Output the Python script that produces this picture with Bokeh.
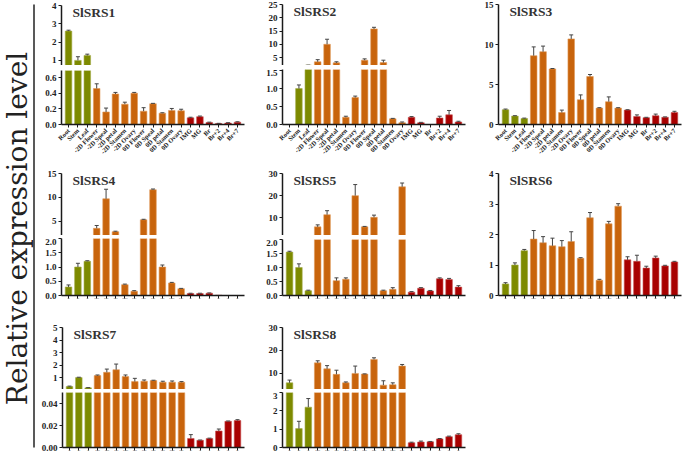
import math
from bokeh.plotting import figure
from bokeh.layouts import row, column
from bokeh.models import (FactorRange, Range1d, FixedTicker, Spacer,
                          ColumnDataSource, NumeralTickFormatter)
from bokeh.core.properties import value
from bokeh.embed import file_html
from bokeh.resources import INLINE

# ---------------- data ----------------
categories = ["Root", "Stem", "Leaf", "-2D Flower", "-2D Speal", "-2D petal",
              "-2D Stamen", "-2D Ovary", "0D Flower", "0D Speal", "0D petal",
              "0D Stamen", "0D Ovary", "IMG", "MG", "Br", "Br+2", "Br+4", "Br+7"]
tissue_group = ["vegetative"] * 3 + ["flower"] * 10 + ["fruit"] * 6

srs1_values = [2.6, 1.0, 1.27, 0.46, 0.16, 0.39, 0.26, 0.40, 0.17, 0.265, 0.145,
               0.18, 0.175, 0.085, 0.10, 0.025, 0.012, 0.018, 0.03]
srs1_errors = [0.05, 0.2, 0.07, 0.06, 0.05, 0.02, 0.025, 0.01, 0.045, 0.005, 0.005,
               0.025, 0.02, 0.008, 0.008, 0.005, 0.003, 0.005, 0.005]
srs1_upper = [0.72, 4]
srs1_lower = [0, 0.69]
srs1_upper_ticks = [1, 2, 3, 4]
srs1_lower_ticks = [0, 0.2, 0.4, 0.6]

srs2_values = [0, 1.0, 2.1, 3.4, 10.0, 3.0, 0.2, 0.75, 4.0, 15.8, 3.1, 0.16, 0.05,
               0.2, 0.05, 0, 0.18, 0.27, 0.07]
srs2_errors = [0, 0.1, 0.05, 0.8, 1.9, 0.4, 0.03, 0.04, 0.5, 0.6, 0.9, 0.01, 0.02,
               0.02, 0.01, 0, 0.05, 0.12, 0.02]
srs2_upper = [2, 25]
srs2_lower = [0, 1.53]
srs2_upper_ticks = [5, 10, 15, 20, 25]
srs2_lower_ticks = [0, 0.5, 1.0, 1.5]

srs3_values = [1.85, 1.05, 0.75, 8.6, 9.1, 6.95, 1.5, 10.7, 3.1, 6.0, 2.05, 2.85,
               2.05, 1.8, 1.0, 0.85, 1.1, 0.9, 1.5]
srs3_errors = [0.08, 0.05, 0.05, 1.1, 0.7, 0.05, 0.3, 0.5, 0.6, 0.25, 0.05, 0.6,
               0.05, 0.05, 0.2, 0.05, 0.2, 0.05, 0.15]
srs3_range = [0, 15]
srs3_ticks = [0, 5, 10, 15]

srs4_values = [0.3, 1.0, 1.2, 3.5, 9.7, 2.8, 0.38, 0.15, 5.3, 11.6, 1.0, 0.44, 0.24,
               0.07, 0.07, 0.08, 0.01, 0.0, 0.0]
srs4_errors = [0.07, 0.13, 0.02, 0.6, 2.0, 0.1, 0.02, 0.02, 0.1, 0.15, 0.07, 0.02,
               0.01, 0.01, 0.01, 0.01, 0.0, 0.0, 0.0]
srs4_upper = [2, 15]
srs4_lower = [0, 2.0]
srs4_upper_ticks = [5, 10, 15]
srs4_lower_ticks = [0, 0.5, 1.0, 1.5, 2.0]

srs5_values = [1.55, 1.0, 0.17, 5.9, 11.4, 0.53, 0.58, 20.0, 5.9, 10.2, 0.17, 0.22,
               24.0, 0.12, 0.26, 0.16, 0.6, 0.57, 0.3]
srs5_errors = [0.03, 0.13, 0.02, 0.9, 1.8, 0.1, 0.05, 5.0, 0.2, 1.0, 0.02, 0.06,
               1.7, 0.02, 0.02, 0.02, 0.03, 0.04, 0.05]
srs5_upper = [2, 30]
srs5_lower = [0, 2.0]
srs5_upper_ticks = [10, 20, 30]
srs5_lower_ticks = [0, 0.5, 1.0, 1.5, 2.0]

srs6_values = [0.38, 1.0, 1.47, 1.85, 1.73, 1.63, 1.6, 1.77, 1.22, 2.55, 0.5, 2.35,
               2.93, 1.17, 1.12, 0.9, 1.23, 0.97, 1.1]
srs6_errors = [0.04, 0.07, 0.04, 0.28, 0.2, 0.25, 0.2, 0.32, 0.02, 0.17, 0.03, 0.08,
               0.08, 0.1, 0.2, 0.06, 0.06, 0.02, 0.02]
srs6_range = [0, 4]
srs6_ticks = [0, 1, 2, 3, 4]

srs7_values = [0.29, 1.0, 0.18, 1.16, 1.42, 1.63, 1.08, 0.68, 0.71, 0.76, 0.63, 0.63,
               0.63, 0.0082, 0.0065, 0.0082, 0.015, 0.0238, 0.0245]
srs7_errors = [0.03, 0.03, 0.02, 0.05, 0.26, 0.45, 0.13, 0.26, 0.1, 0.03, 0.08, 0.1,
               0.05, 0.0035, 0.0003, 0.0003, 0.0018, 0.0003, 0.0008]
srs7_upper = [0.05, 5]
srs7_lower = [0, 0.05]
srs7_upper_ticks = [1, 2, 3, 4, 5]
srs7_lower_ticks = [0, 0.02, 0.04]

srs8_values = [5.9, 1.03, 2.2, 14.6, 12.0, 9.6, 5.9, 10.0, 9.7, 16.1, 4.9, 5.1, 13.2,
               0.26, 0.30, 0.31, 0.47, 0.59, 0.7]
srs8_errors = [1.2, 0.4, 0.47, 0.9, 1.4, 1.8, 0.4, 3.2, 0.1, 0.7, 1.9, 0.8, 0.7,
               0.03, 0.05, 0.02, 0.02, 0.03, 0.05]
srs8_upper = [3, 30]
srs8_lower = [0, 3]
srs8_upper_ticks = [10, 20, 30]
srs8_lower_ticks = [0, 1, 2, 3]

y_title = "Relative expression level"

# ---------------- style ----------------
FILL = {"vegetative": "#7d8a00", "flower": "#c8640c", "fruit": "#a80000"}
EDGE = {"vegetative": "#a4ad4a", "flower": "#e09a5a", "fruit": "#c85050"}
SERIF = "Liberation Serif"
AXIS_COLOR = "#1a1a1a"


def make_fig(vals, errs, yr, ticks, fmt, w, h, bl, br, bt, bb, xaxis, xlabels,
             title=None):
    p = figure(width=w, height=h,
               x_range=FactorRange(factors=categories, range_padding=0.25,
                                   range_padding_units="absolute"),
               y_range=Range1d(yr[0], yr[1]),
               output_backend="svg", toolbar_location=None,
               min_border_left=bl, min_border_right=br,
               min_border_top=bt, min_border_bottom=bb,
               x_axis_location="below" if xaxis else None)
    p.outline_line_color = None
    p.grid.visible = False
    p.background_fill_color = "white"
    p.border_fill_color = "white"

    src = ColumnDataSource(dict(
        cat=categories, val=vals,
        fill=[FILL[g] for g in tissue_group],
        edge=[EDGE[g] for g in tissue_group]))
    p.vbar(x="cat", top="val", bottom=0, width=0.7, source=src,
           fill_color="fill", line_color="edge", line_width=0.6)

    ec, ev, eh = [], [], []
    for c, v, e in zip(categories, vals, errs):
        if e > 0:
            ec.append(c); ev.append(v); eh.append(v + e)
    esrc = ColumnDataSource(dict(cat=ec, val=ev, hi=eh))
    p.segment(x0="cat", y0="val", x1="cat", y1="hi", source=esrc,
              line_color="#444444", line_width=1)
    p.scatter(x="cat", y="hi", marker="dash", size=4, source=esrc,
              line_color="#444444", line_width=1)

    ya = p.yaxis[0]
    ya.ticker = FixedTicker(ticks=ticks)
    ya.formatter = NumeralTickFormatter(format=fmt)
    ya.minor_tick_line_color = None
    ya.major_tick_in = 0
    ya.major_tick_out = 3
    ya.axis_line_width = 1.5
    ya.axis_line_color = AXIS_COLOR
    ya.major_tick_line_width = 1.2
    ya.major_tick_line_color = AXIS_COLOR
    ya.major_label_standoff = 2
    ya.major_label_text_font = SERIF
    ya.major_label_text_font_style = "bold"
    ya.major_label_text_font_size = "9px"
    ya.major_label_text_color = "#222222"

    if xaxis:
        xa = p.xaxis[0]
        xa.major_tick_in = 0
        xa.major_tick_out = 3
        xa.axis_line_width = 1.5
        xa.axis_line_color = AXIS_COLOR
        xa.major_tick_line_color = AXIS_COLOR
        xa.major_tick_line_width = 1
        xa.minor_tick_line_color = None
        if xlabels:
            xa.major_label_orientation = math.pi / 4
            xa.major_label_text_font = SERIF
            xa.major_label_text_font_style = "bold"
            xa.major_label_text_font_size = "6.5px"
            xa.major_label_text_color = "#222222"
            xa.major_label_standoff = 2
        else:
            xa.major_label_overrides = {c: "" for c in categories}
            xa.major_label_text_font_size = "1px"
            xa.major_label_standoff = 0

    if title:
        p.text(x=[categories[0]], y=[yr[1]], text=[title], x_offset=4, y_offset=-1,
               text_baseline="top", text_align="left",
               text_font=value(SERIF), text_font_style="bold",
               text_font_size="13.5px", text_color="#333333")
    return p


def break_strip(w, bl, gap):
    s = figure(width=w, height=gap, x_range=Range1d(0, w), y_range=Range1d(0, gap),
               x_axis_location=None, y_axis_location=None, min_border=0,
               output_backend="svg", toolbar_location=None)
    s.outline_line_color = None
    s.grid.visible = False
    ax = bl - 0.5
    s.segment(x0=[ax - 3, ax - 1], y0=[0, 0], x1=[ax + 1, ax + 3], y1=[gap, gap],
              line_color="#111111", line_width=1.2)
    return s


def broken(name, vals, errs, up, lo, up_t, lo_t, lo_fmt, w, bl, br,
           upper_geo, gap, lower_geo, xlabels):
    uh, ubt = upper_geo
    lh, lbb = lower_geo
    pu = make_fig(vals, errs, up, up_t, "0", w, uh, bl, br, ubt, 0,
                  False, False, title=name)
    pl = make_fig(vals, errs, lo, lo_t, lo_fmt, w, lh, bl, br, 0, lbb,
                  True, xlabels)
    return column(pu, break_strip(w, bl, gap), pl, spacing=0)


def single(name, vals, errs, yr, ticks, w, h, bl, br, bt, bb, xlabels):
    return make_fig(vals, errs, yr, ticks, "0", w, h, bl, br, bt, bb, True,
                    xlabels, title=name)


# column geometry (width, left border, right border)
C1 = (224, 23, 18)
C2 = (216, 20, 13)
C3 = (207, 20, 4)

p1 = broken("SlSRS1", srs1_values, srs1_errors, srs1_upper, srs1_lower,
            srs1_upper_ticks, srs1_lower_ticks, "0.0", *C1,
            (65, 5), 5, (90, 34), True)
p2 = broken("SlSRS2", srs2_values, srs2_errors, srs2_upper, srs2_lower,
            srs2_upper_ticks, srs2_lower_ticks, "0.0", *C2,
            (65, 4), 4, (91, 34), True)
p3 = single("SlSRS3", srs3_values, srs3_errors, srs3_range, srs3_ticks,
            C3[0], 160, C3[1], C3[2], 4, 34, True)

p4 = broken("SlSRS4", srs4_values, srs4_errors, srs4_upper, srs4_lower,
            srs4_upper_ticks, srs4_lower_ticks, "0.0", *C1,
            (75, 13), 3, (76, 19), False)
p5 = broken("SlSRS5", srs5_values, srs5_errors, srs5_upper, srs5_lower,
            srs5_upper_ticks, srs5_lower_ticks, "0.0", *C2,
            (75, 13), 4, (75, 19), False)
p6 = single("SlSRS6", srs6_values, srs6_errors, srs6_range, srs6_ticks,
            C3[0], 154, C3[1], C3[2], 13, 19, False)

p7 = broken("SlSRS7", srs7_values, srs7_errors, srs7_upper, srs7_lower,
            srs7_upper_ticks, srs7_lower_ticks, "0.00", *C1,
            (75, 13), 3, (62, 5), False)
p8 = broken("SlSRS8", srs8_values, srs8_errors, srs8_upper, srs8_lower,
            srs8_upper_ticks, srs8_lower_ticks, "0", *C2,
            (75, 13), 3, (62, 4), False)
p9 = Spacer(width=C3[0], height=140)

# big y-axis title
t = figure(width=38, height=454, x_range=Range1d(0, 38), y_range=Range1d(0, 454),
           x_axis_location=None, y_axis_location=None, min_border=0,
           output_backend="svg", toolbar_location=None)
t.outline_line_color = None
t.grid.visible = False
t.text(x=[16.5], y=[226], text=[y_title], angle=math.pi / 2,
       text_align="center", text_baseline="middle",
       text_font=value("DejaVu Serif"), text_font_size="28px", text_color="#222222")
t.segment(x0=[33.5], y0=[7], x1=[33.5], y1=[450], line_color="#222222", line_width=1.5)

layout = row(t,
             column(p1, p4, p7, spacing=0),
             column(p2, p5, p8, spacing=0),
             column(p3, p6, p9, spacing=0),
             spacing=0)

open("out.html", "w").write(file_html(layout, INLINE))
